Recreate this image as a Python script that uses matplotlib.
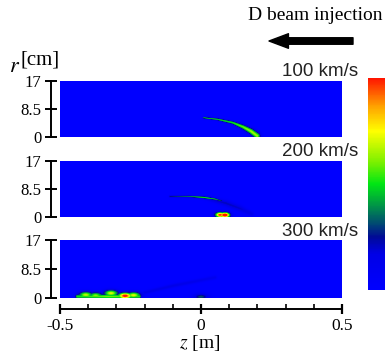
import numpy as np
import matplotlib
matplotlib.use("Agg")
import matplotlib.pyplot as plt
from matplotlib.colors import LinearSegmentedColormap
from matplotlib.patches import FancyArrowPatch

plt.rcParams['font.family'] = ['Liberation Serif', 'DejaVu Serif']
plt.rcParams['mathtext.fontset'] = 'stix'
plt.rcParams['axes.unicode_minus'] = False

# panel labels and axis ticks
speeds = ['100 km/s', '200 km/s', '300 km/s']
r_ticks = [0, 8.5, 17]
r_ticklabels = ['0', '8.5', '17']
z_ticks = [-0.5, 0, 0.5]
z_ticklabels = ['-0.5', '0', '0.5']

# features: z [m], r [cm], level (0..1, >1 saturates), width [px]
p1_streak_z = [0.01, 0.06, 0.113, 0.15, 0.178, 0.20]
p1_streak_r = [5.7, 5.2, 4.2, 2.9, 1.6, 0.2]
p1_streak_v = [0.42, 0.45, 0.50, 0.58, 0.64, 0.64]
p1_streak_w = [0.7, 0.9, 1.1, 1.6, 2.0, 2.2]

p2_streak_z = [-0.11, -0.04, 0.01, 0.05, 0.075]
p2_streak_r = [6.1, 6.1, 5.8, 5.3, 4.7]
p2_streak_v = [0.25, 0.36, 0.50, 0.42, 0.25]
p2_streak_w = [0.8, 0.8, 0.8, 0.8, 0.8]
p2_shadow_z = [0.02, 0.09, 0.14, 0.18]
p2_shadow_r = [5.6, 4.0, 2.4, 0.8]
p2_shadow_v = [0.18, 0.21, 0.19, 0.13]
p2_shadow_w = [1.5, 2.0, 2.0, 1.5]
p2_spot_z = [0.068, 0.085]
p2_spot_r = [0.5, 0.45]
p2_spot_v = [1.0, 1.2]

p3_spot_z = [-0.41, -0.375, -0.32, -0.27, -0.24, 0.0]
p3_spot_r = [0.8, 0.6, 1.3, 0.5, 0.7, 0.2]
p3_spot_v = [0.68, 0.62, 0.72, 1.05, 0.72, 0.32]
p3_base_z = [-0.44, -0.33, -0.22]
p3_base_r = [0.3, 0.3, 0.3]
p3_base_v = [0.50, 0.60, 0.52]
p3_shadow_z = [-0.2, -0.1, 0.05]
p3_shadow_r = [1.5, 3.5, 6.0]
p3_shadow_v = [0.15, 0.16, 0.12]

cmap = LinearSegmentedColormap.from_list('beam', [
    (0.00, (0/255, 0/255, 255/255)),
    (0.17, (0/255, 0/255, 230/255)),
    (0.25, (0/255, 10/255, 150/255)),
    (0.32, (0/255, 80/255, 110/255)),
    (0.40, (0/255, 150/255, 70/255)),
    (0.50, (0/255, 230/255, 20/255)),
    (0.60, (120/255, 240/255, 0/255)),
    (0.75, (255/255, 255/255, 0/255)),
    (0.87, (255/255, 160/255, 0/255)),
    (1.00, (255/255, 20/255, 0/255)),
])

# grid at about one cell per screen pixel
zg = np.linspace(-0.5, 0.5, 282)
rg = np.linspace(0, 17, 57)
Z, R = np.meshgrid(zg, rg)
ZS, RS = 282.0, 56.5 / 17   # data -> pixel scale
ZP, RP = Z * ZS, R * RS


def streak(zs, rs, vs, ws):
    out = np.zeros_like(Z)
    for i in range(len(zs) - 1):
        ax_, ay = zs[i] * ZS, rs[i] * RS
        dx, dy = zs[i + 1] * ZS - ax_, rs[i + 1] * RS - ay
        t = np.clip(((ZP - ax_) * dx + (RP - ay) * dy) / (dx * dx + dy * dy), 0, 1)
        d2 = (ZP - ax_ - t * dx) ** 2 + (RP - ay - t * dy) ** 2
        v = vs[i] + t * (vs[i + 1] - vs[i])
        w = ws[i] + t * (ws[i + 1] - ws[i])
        out = np.maximum(out, v * np.exp(-d2 / (2 * w * w)))
    return out


def blobs(zs, rs, vs, wz, wr):
    out = np.zeros_like(Z)
    for z0, r0, v in zip(zs, rs, vs):
        d2 = ((ZP - z0 * ZS) / wz) ** 2 + ((RP - r0 * RS) / wr) ** 2
        out = np.maximum(out, v * np.exp(-d2 / 2))
    return out


f1 = streak(p1_streak_z, p1_streak_r, p1_streak_v, p1_streak_w)
f2 = np.maximum.reduce([
    streak(p2_shadow_z, p2_shadow_r, p2_shadow_v, p2_shadow_w),
    streak(p2_streak_z, p2_streak_r, p2_streak_v, p2_streak_w),
    blobs(p2_spot_z, p2_spot_r, p2_spot_v, 3.4, 1.9),
])
f3 = np.maximum.reduce([
    streak(p3_shadow_z, p3_shadow_r, p3_shadow_v, [1.2] * 3),
    streak(p3_base_z, p3_base_r, p3_base_v, [1.6] * 3),
    blobs(p3_spot_z, p3_spot_r, p3_spot_v, 5.0, 2.2),
])
fields = [np.clip(f, 0, 1) for f in (f1, f2, f3)]

W, H = 385, 358
fig = plt.figure(figsize=(W / 100, H / 100), dpi=100)


def fx(x):
    return x / W


def fy(y):
    return 1 - y / H


panel_px = [(80.7, 137.0), (160.7, 216.7), (240.0, 297.7)]
label_y = [72, 151, 232]

for i, (top, bot) in enumerate(panel_px):
    ax = fig.add_axes([fx(60), fy(bot), (342 - 60) / W, (bot - top) / H])
    im = ax.imshow(fields[i], cmap=cmap, vmin=0, vmax=1, origin='lower',
                   extent=[-0.5, 0.5, 0, 17], aspect='auto', interpolation='bilinear')
    for s in ['top', 'right']:
        ax.spines[s].set_visible(False)
    ax.spines['left'].set_position(('outward', 6.5))
    ax.spines['left'].set_linewidth(1.4)
    ax.set_yticks(r_ticks)
    ax.set_yticklabels(r_ticklabels)
    ax.tick_params(axis='y', direction='inout', length=8, width=1.4, labelsize=12, pad=3)
    if i < 2:
        ax.spines['bottom'].set_visible(False)
        ax.set_xticks([])
    else:
        ax.spines['bottom'].set_position(('outward', 8))
        ax.spines['bottom'].set_linewidth(1.4)
        ax.set_xticks(z_ticks)
        ax.set_xticklabels(z_ticklabels)
        ax.set_xticks(np.arange(-0.4, 0.45, 0.1), minor=True)
        ax.tick_params(axis='x', which='major', direction='inout', length=7,
                       width=1.6, labelsize=12.5, pad=3)
        ax.tick_params(axis='x', which='minor', direction='in', length=3.5, width=1.2)
    ax.set_xlim(-0.5, 0.5)
    ax.set_ylim(0, 17)
    fig.text(fx(358), fy(label_y[i]), speeds[i], ha='right', va='center',
             fontsize=13.5, family=['Liberation Sans', 'DejaVu Sans'], color='#222222')

# colour bar, cut off by the right edge like in the source
cax = fig.add_axes([fx(368), fy(290), 0.1, 212 / H])
cb = fig.colorbar(im, cax=cax)
cb.set_ticks([])
cb.outline.set_visible(False)

# axis titles
fig.text(fx(9), fy(72), '$r$', fontsize=16, ha='left', va='baseline')
fig.text(fx(21), fy(65), '[cm]', fontsize=15, ha='left', va='baseline')
fig.text(fx(200), fy(348), '$z$ [m]', fontsize=14, ha='center', va='baseline')

# beam direction
fig.text(fx(315), fy(16), 'D beam injection', fontsize=14, ha='center', va='center')
arrow = FancyArrowPatch((fx(353), fy(41)), (fx(269), fy(41)), transform=fig.transFigure,
                        arrowstyle='simple,head_length=14,head_width=10.5,tail_width=4.7',
                        mutation_scale=1, color='black', shrinkA=0, shrinkB=0)
fig.add_artist(arrow)

fig.savefig('out.png', dpi=100)
